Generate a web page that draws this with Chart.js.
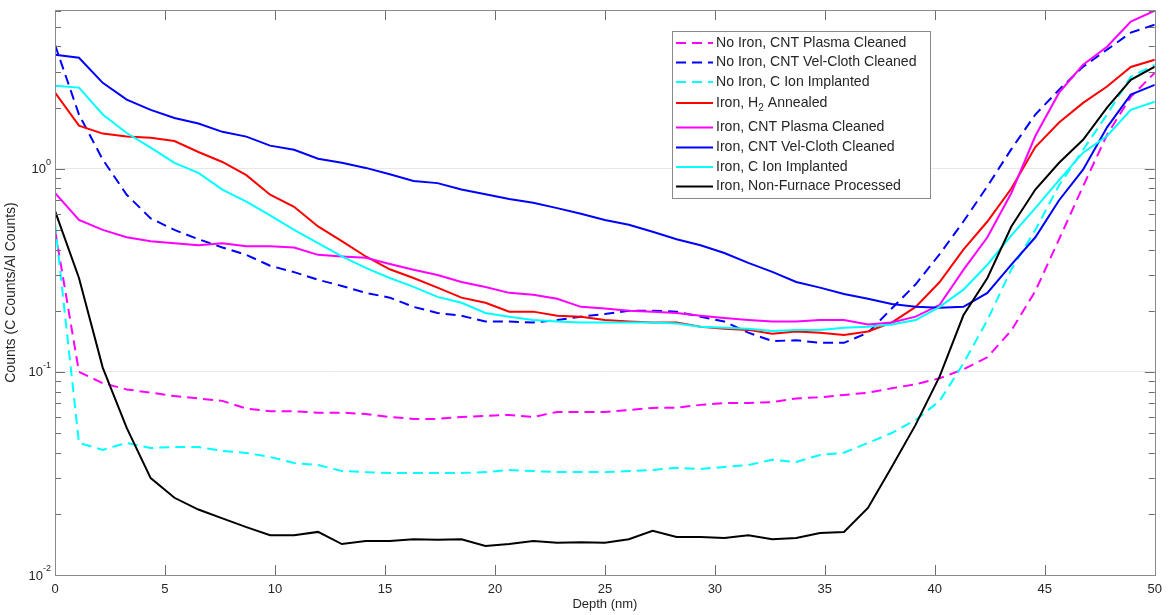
<!DOCTYPE html>
<html>
<head>
<meta charset="utf-8">
<script src="https://cdn.jsdelivr.net/npm/chart.js@4.4.0/dist/chart.umd.min.js"></script>
<style>
  html, body { margin: 0; padding: 0; background: #fff; }
</style>
</head>
<body>
<canvas id="chart" width="1169" height="615"></canvas>
<script>
// depth (nm) of each sputter step
const depth = [0, 1.09, 2.17, 3.26, 4.35, 5.43, 6.52, 7.61, 8.70, 9.78,
  10.87, 11.96, 13.04, 14.13, 15.22, 16.30, 17.39, 18.48, 19.57, 20.65,
  21.74, 22.83, 23.91, 25.00, 26.09, 27.17, 28.26, 29.35, 30.43, 31.52,
  32.61, 33.70, 34.78, 35.87, 36.96, 38.04, 39.13, 40.22, 41.30, 42.39,
  43.48, 44.57, 45.65, 46.74, 47.83, 48.91, 50.00];

const noIronPlasma = [0.50, 0.10, 0.088, 0.082, 0.079, 0.076, 0.074, 0.072, 0.066, 0.064,
  0.064, 0.063, 0.063, 0.062, 0.060, 0.0587, 0.0587, 0.060, 0.0607, 0.0614,
  0.060, 0.0635, 0.0635, 0.0635, 0.0648, 0.0665, 0.0667, 0.0688, 0.0703, 0.0703,
  0.071, 0.074, 0.075, 0.077, 0.079, 0.083, 0.087, 0.093, 0.103, 0.118,
  0.16, 0.25, 0.45, 0.82, 1.47, 2.26, 2.97];

const noIronVelCloth = [4.08, 1.85, 1.11, 0.745, 0.57, 0.50, 0.45, 0.41, 0.377, 0.333,
  0.31, 0.284, 0.265, 0.245, 0.232, 0.209, 0.195, 0.189, 0.177, 0.177,
  0.175, 0.18, 0.187, 0.193, 0.20, 0.20, 0.198, 0.187, 0.177, 0.156,
  0.142, 0.143, 0.139, 0.139, 0.156, 0.205, 0.27, 0.38, 0.55, 0.82,
  1.25, 1.85, 2.45, 3.18, 3.86, 4.68, 5.12];

const noIronCIon = [0.54, 0.0447, 0.0413, 0.0447, 0.0422, 0.0427, 0.0427, 0.0408, 0.0399, 0.0381,
  0.0356, 0.0348, 0.0325, 0.0321, 0.0318, 0.0318, 0.0318, 0.0318, 0.0321, 0.0329,
  0.0325, 0.0321, 0.0321, 0.0321, 0.0325, 0.0329, 0.0337, 0.0333, 0.034, 0.0348,
  0.0369, 0.036, 0.039, 0.040, 0.0447, 0.050, 0.058, 0.072, 0.11, 0.18,
  0.32, 0.50, 0.83, 1.24, 1.85, 2.84, 3.25];

const ironH2 = [2.37, 1.63, 1.49, 1.44, 1.42, 1.37, 1.21, 1.08, 0.93, 0.745,
  0.65, 0.52, 0.44, 0.37, 0.32, 0.29, 0.26, 0.232, 0.219, 0.198,
  0.198, 0.189, 0.187, 0.18, 0.177, 0.175, 0.175, 0.167, 0.163, 0.161,
  0.154, 0.158, 0.156, 0.152, 0.158, 0.175, 0.209, 0.277, 0.40, 0.55,
  0.80, 1.28, 1.69, 2.11, 2.54, 3.17, 3.44];

const ironPlasma = [0.76, 0.56, 0.50, 0.46, 0.44, 0.43, 0.42, 0.43, 0.415, 0.415,
  0.41, 0.377, 0.37, 0.365, 0.34, 0.318, 0.30, 0.277, 0.262, 0.245,
  0.24, 0.229, 0.209, 0.205, 0.20, 0.198, 0.195, 0.189, 0.184, 0.18,
  0.177, 0.177, 0.18, 0.18, 0.171, 0.175, 0.187, 0.214, 0.318, 0.46,
  0.76, 1.45, 2.37, 3.25, 3.99, 5.3, 6.0];

const ironVelCloth = [3.64, 3.52, 2.65, 2.19, 1.95, 1.78, 1.67, 1.52, 1.44, 1.30,
  1.24, 1.12, 1.07, 1.01, 0.94, 0.87, 0.85, 0.79, 0.75, 0.71,
  0.68, 0.64, 0.60, 0.56, 0.53, 0.49, 0.45, 0.42, 0.385, 0.344,
  0.311, 0.277, 0.26, 0.242, 0.229, 0.216, 0.209, 0.207, 0.209, 0.245,
  0.337, 0.46, 0.70, 0.99, 1.60, 2.32, 2.59];

const ironCIon = [2.56, 2.51, 1.85, 1.50, 1.27, 1.07, 0.955, 0.79, 0.69, 0.59,
  0.50, 0.43, 0.37, 0.325, 0.29, 0.262, 0.234, 0.219, 0.195, 0.187,
  0.180, 0.177, 0.175, 0.175, 0.175, 0.175, 0.173, 0.167, 0.165, 0.163,
  0.159, 0.161, 0.161, 0.165, 0.167, 0.171, 0.18, 0.209, 0.254, 0.337,
  0.47, 0.64, 0.88, 1.2, 1.45, 1.95, 2.14];

const ironNonFurnace = [0.62, 0.29, 0.105, 0.053, 0.030, 0.024, 0.021, 0.019, 0.0172, 0.0157,
  0.0157, 0.0163, 0.0142, 0.0147, 0.0147, 0.0150, 0.0149, 0.0150, 0.0139, 0.0142,
  0.0147, 0.0144, 0.0145, 0.0144, 0.0150, 0.0165, 0.0154, 0.0154, 0.0152, 0.0157,
  0.0150, 0.0152, 0.0161, 0.0163, 0.0214, 0.034, 0.055, 0.095, 0.19, 0.29,
  0.52, 0.79, 1.07, 1.39, 2.0, 2.74, 3.18];

const xTicks = [0, 5, 10, 15, 20, 25, 30, 35, 40, 45, 50];
const yTicks = [0.01, 0.1, 1];
const yExponents = ['-2', '-1', '0'];

const series = [
  { label: 'No Iron, CNT Plasma Cleaned', data: noIronPlasma, color: '#ff00ff', dash: true },
  { label: 'No Iron, CNT Vel-Cloth Cleaned', data: noIronVelCloth, color: '#0000ff', dash: true },
  { label: 'No Iron, C Ion Implanted', data: noIronCIon, color: '#00ffff', dash: true },
  { label: 'Iron, H\u2082 Annealed', data: ironH2, color: '#ff0000', dash: false },
  { label: 'Iron, CNT Plasma Cleaned', data: ironPlasma, color: '#ff00ff', dash: false },
  { label: 'Iron, CNT Vel-Cloth Cleaned', data: ironVelCloth, color: '#0000ff', dash: false },
  { label: 'Iron, C Ion Implanted', data: ironCIon, color: '#00ffff', dash: false },
  { label: 'Iron, Non-Furnace Processed', data: ironNonFurnace, color: '#000000', dash: false }
];

const FONT = '"Liberation Sans", Arial, Helvetica, sans-serif';
const TEXT = '#262626';
const DASH = [10, 6];

// inward ticks, box and 10^n labels, like the matlab axes
const matlabAxes = {
  id: 'matlabAxes',
  afterDatasetsDraw(chart) {
    const { ctx, chartArea: a, scales: { x, y } } = chart;
    ctx.save();
    ctx.strokeStyle = '#6e6e6e';
    ctx.lineWidth = 1;
    ctx.beginPath();
    xTicks.forEach(v => {
      const px = Math.round(x.getPixelForValue(v)) + 0.5;
      ctx.moveTo(px, a.bottom); ctx.lineTo(px, a.bottom - 10);
      ctx.moveTo(px, a.top); ctx.lineTo(px, a.top + 10);
    });
    for (let e = -2; e <= 0; e++) {
      for (let m = 1; m <= 9; m++) {
        const v = m * Math.pow(10, e);
        if (v > y.max) break;
        const py = Math.round(y.getPixelForValue(v)) + 0.5;
        const len = m === 1 ? 10 : 6;
        ctx.moveTo(a.left, py); ctx.lineTo(a.left + len, py);
        ctx.moveTo(a.right, py); ctx.lineTo(a.right - len, py);
      }
    }
    ctx.stroke();
    ctx.strokeStyle = '#8a8a8a';
    ctx.strokeRect(Math.round(a.left) + 0.5, Math.round(a.top) + 0.5,
      Math.round(a.right - a.left), Math.round(a.bottom - a.top));

    // y tick labels with a raised exponent
    ctx.fillStyle = TEXT;
    ctx.textBaseline = 'middle';
    yTicks.forEach((v, i) => {
      const py = y.getPixelForValue(v);
      const right = a.left - 4;
      ctx.font = '9px ' + FONT;
      const ew = ctx.measureText(yExponents[i]).width;
      ctx.textAlign = 'left';
      ctx.fillText(yExponents[i], right - ew, py - 6);
      ctx.font = '13px ' + FONT;
      ctx.textAlign = 'right';
      ctx.fillText('10', right - ew, py + 1);
    });
    ctx.restore();
  }
};

// legend box in the upper right, drawn from the datasets
const boxLegend = {
  id: 'boxLegend',
  afterDraw(chart) {
    const { ctx } = chart;
    const bx = 672, by = 31, bw = 258, bh = 167;
    const rows = [43, 62.5, 82, 103, 127.5, 147.5, 167, 186.5];
    ctx.save();
    ctx.fillStyle = '#ffffff';
    ctx.fillRect(bx, by, bw, bh);
    ctx.strokeStyle = '#8a8a8a';
    ctx.lineWidth = 1;
    ctx.strokeRect(bx + 0.5, by + 0.5, bw, bh);
    chart.data.datasets.forEach((ds, i) => {
      const ry = rows[i];
      ctx.beginPath();
      ctx.strokeStyle = ds.borderColor;
      ctx.lineWidth = 2;
      ctx.setLineDash(ds.borderDash || []);
      ctx.moveTo(bx + 4, ry); ctx.lineTo(bx + 41, ry);
      ctx.stroke();
      ctx.setLineDash([]);
      ctx.fillStyle = TEXT;
      ctx.textBaseline = 'middle';
      ctx.textAlign = 'left';
      const big = '14.1px ' + FONT;
      let tx = bx + 44;
      const parts = ds.label.split('\u2082');
      parts.forEach((p, k) => {
        ctx.font = big;
        ctx.fillText(p, tx, ry);
        tx += ctx.measureText(p).width;
        if (k < parts.length - 1) {
          ctx.font = '10px ' + FONT;
          ctx.fillText('2', tx, ry + 5);
          tx += ctx.measureText('2').width;
        }
      });
    });
    ctx.restore();
  }
};

new Chart(document.getElementById('chart'), {
  type: 'line',
  data: {
    datasets: series.map((s, i) => ({
      label: s.label,
      data: depth.map((d, k) => ({ x: d, y: s.data[k] })),
      borderColor: s.color,
      backgroundColor: s.color,
      borderWidth: 2,
      borderDash: s.dash ? DASH : [],
      pointRadius: 0,
      tension: 0,
      fill: false,
      order: series.length - i
    }))
  },
  options: {
    responsive: false,
    animation: false,
    layout: { padding: { left: 0, right: 12, top: 10, bottom: 0 } },
    plugins: {
      legend: { display: false },
      tooltip: { enabled: false }
    },
    scales: {
      x: {
        type: 'linear',
        min: 0,
        max: 50,
        afterBuildTicks: scale => { scale.ticks = xTicks.map(v => ({ value: v })); },
        afterFit: scale => { scale.height = 40; },
        grid: { display: false, drawTicks: false },
        border: { display: false },
        ticks: { padding: 7, color: TEXT, font: { family: FONT, size: 13 }, maxRotation: 0 },
        title: {
          display: true,
          text: 'Depth (nm)',
          color: TEXT,
          font: { family: FONT, size: 13 },
          padding: { top: 0, bottom: 3 }
        }
      },
      y: {
        type: 'logarithmic',
        min: 0.01,
        max: 6.05,
        afterBuildTicks: scale => { scale.ticks = yTicks.map(v => ({ value: v })); },
        afterFit: scale => { scale.width = 55; },
        grid: { color: '#e8e8e8', drawTicks: false },
        border: { display: false },
        ticks: { display: false },
        title: {
          display: true,
          text: 'Counts (C Counts/Al Counts)',
          color: TEXT,
          font: { family: FONT, size: 14 },
          padding: { top: 3, bottom: 0 }
        }
      }
    }
  },
  plugins: [matlabAxes, boxLegend]
});
</script>
</body>
</html>
